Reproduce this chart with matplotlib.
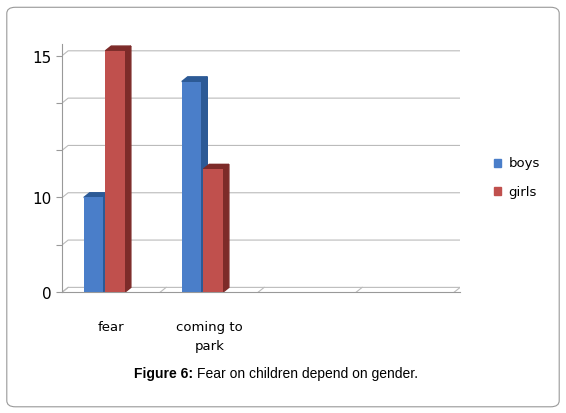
import matplotlib.pyplot as plt
from matplotlib.patches import FancyBboxPatch
import numpy as np

categories = ["fear", "coming to\npark", "", ""]
boys = [2.0, 4.45, 0, 0]
girls = [5.1, 2.6, 0, 0]
tick_labels = ["0", "", "10", "", "", "15"]

blue = "#4a7ec9"
blue_dark = "#2c5a96"
red = "#c0504d"
red_dark = "#7d2b29"

fig = plt.figure(figsize=(5.66, 4.14), dpi=100)
fig.patches.append(FancyBboxPatch((0.012, 0.015), 0.976, 0.965, boxstyle="round,pad=0,rounding_size=0.015",
                                  transform=fig.transFigure, fill=False, ec="#999999", lw=0.8))
ax = fig.add_axes([0.11, 0.292, 0.703, 0.60])

w = 0.2
dx, dy = 0.06, 0.1
x = np.arange(len(categories)) + 0.5

for xi in range(len(tick_labels)):
    ax.plot([0, dx, 4 + dx], [xi, xi + dy, xi + dy], color="#bbbbbb", lw=0.8, zorder=0)
for xi in range(5):
    ax.plot([xi, xi + dx], [0, dy], color="#bbbbbb", lw=0.8, zorder=0)

def bar3d(x0, h, face, side):
    if h <= 0:
        return
    ax.bar(x0, h, w, align="edge", color=face, zorder=3)
    ax.fill([x0 + w, x0 + w + dx, x0 + w + dx, x0 + w], [0, dy, h + dy, h], color=side, zorder=2)
    ax.fill([x0, x0 + dx, x0 + w + dx, x0 + w], [h, h + dy, h + dy, h], color=side, zorder=2)

for xi, b, g in zip(x, boys, girls):
    bar3d(xi - 0.28, b, blue, blue_dark)
    bar3d(xi - 0.06, g, red, red_dark)

ax.set_xlim(0, 4 + dx)
ax.set_ylim(0, 5.25)
ax.set_yticks(range(len(tick_labels)))
ax.set_yticklabels(tick_labels, fontsize=11)
ax.set_xticks(x)
ax.set_xticklabels(categories, fontsize=9.5, linespacing=1.6)
ax.tick_params(axis="x", length=0, pad=20)
ax.tick_params(axis="y", length=4, color="#999999")
for s in ["top", "right"]:
    ax.spines[s].set_visible(False)
ax.spines["left"].set_color("#999999")
ax.spines["bottom"].set_color("#999999")

fig.patches.append(plt.Rectangle((0.873, 0.595), 0.013, 0.018, transform=fig.transFigure, color=blue))
fig.patches.append(plt.Rectangle((0.873, 0.527), 0.013, 0.018, transform=fig.transFigure, color=red))
fig.text(0.898, 0.604, "boys", fontsize=9.5, va="center")
fig.text(0.898, 0.536, "girls", fontsize=9.5, va="center")

fig.text(0.342, 0.088, "Figure 6:", ha="right", fontsize=10, fontweight="bold", family="Liberation Sans")
fig.text(0.348, 0.088, "Fear on children depend on gender.", ha="left", fontsize=10, family="Liberation Sans")

fig.savefig("out.png", dpi=100)
